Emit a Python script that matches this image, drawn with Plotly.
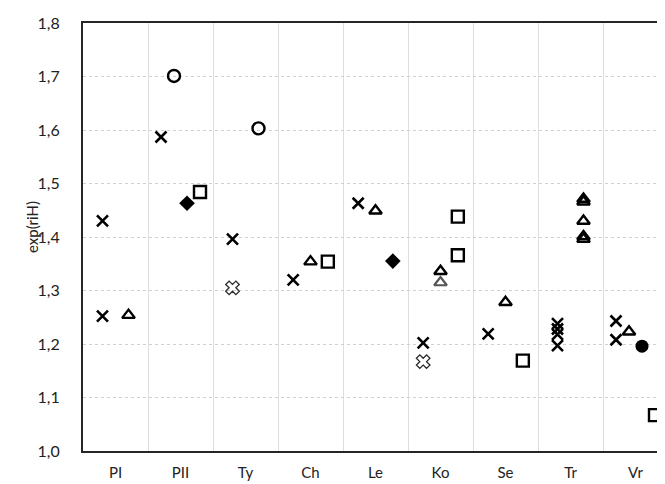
import plotly.graph_objects as go

categories = ["PI", "PII", "Ty", "Ch", "Le", "Ko", "Se", "Tr", "Vr"]
y_ticks = [1.0, 1.1, 1.2, 1.3, 1.4, 1.5, 1.6, 1.7, 1.8]
y_tick_labels = ["1,0", "1,1", "1,2", "1,3", "1,4", "1,5", "1,6", "1,7", "1,8"]
y_title = "exp(riH)"

# values per series (category -> list of values)
cross_vals = {"PI": [1.430, 1.252], "PII": [1.587], "Ty": [1.396], "Ch": [1.320],
              "Le": [1.463], "Ko": [1.202], "Se": [1.219],
              "Tr": [1.238, 1.228, 1.218, 1.197], "Vr": [1.243, 1.208]}
cross_grey_vals = {"Ty": [1.305], "Ko": [1.167]}
circle_vals = {"PII": [1.701], "Ty": [1.603]}
triangle_vals = {"PI": [1.254], "Ch": [1.354], "Le": [1.449], "Ko": [1.336],
                 "Se": [1.278], "Tr": [1.466, 1.471, 1.430, 1.396, 1.401], "Vr": [1.223]}
triangle_grey_vals = {"Ko": [1.315]}
diamond_vals = {"PII": [1.463], "Le": [1.355]}
circle_filled_vals = {"Vr": [1.196]}
square_vals = {"PII": [1.484], "Ch": [1.354], "Ko": [1.438, 1.366], "Se": [1.169], "Vr": [1.067]}

# slot order within a category
slot_groups = [
    ("cross", [cross_vals, cross_grey_vals]),
    ("round", [circle_vals, triangle_vals, triangle_grey_vals]),
    ("diamond", [diamond_vals, circle_filled_vals]),
    ("square", [square_vals]),
]


def slots_for(cat):
    present = []
    for name, dicts in slot_groups:
        if any(cat in d for d in dicts):
            present.append(name)
    return present


def offset(cat, slot):
    present = slots_for(cat)
    n = len(present)
    i = present.index(slot)
    return (i - (n - 1) / 2) * 0.8 / n


def xy(d, slot):
    xs, ys = [], []
    for cat, vals in d.items():
        ci = categories.index(cat)
        for v in vals:
            xs.append(ci + offset(cat, slot))
            ys.append(v)
    return xs, ys


fig = go.Figure()

def add(d, slot, symbol, size, color="black", lw=2.5):
    xs, ys = xy(d, slot)
    marker = dict(symbol=symbol, size=size, color=color,
                  line=dict(color=color, width=lw))
    fig.add_trace(go.Scatter(x=xs, y=ys, mode="markers", marker=marker,
                             showlegend=False, hoverinfo="y"))

add(cross_grey_vals, "cross", "x-open", 12, color="#2a2a2a", lw=1.3)
add(cross_vals, "cross", "x-thin", 11, lw=2.6)
add(circle_vals, "round", "circle-open", 12, lw=2.4)
add(triangle_grey_vals, "round", "triangle-up-open", 11, color="#555555", lw=2.2)
add(triangle_vals, "round", "triangle-up-open", 11, lw=2.4)
add(diamond_vals, "diamond", "diamond", 12, lw=0)
add(circle_filled_vals, "diamond", "circle", 13, lw=0)
add(square_vals, "square", "square-open", 12, lw=2.4)

font = "Lato, 'Open Sans', sans-serif"
fig.update_layout(
    width=657, height=476,
    margin=dict(l=75, r=0, t=15, b=33),
    paper_bgcolor="white", plot_bgcolor="white",
    font=dict(family=font, size=15, color="#222222"),
)
fig.update_xaxes(
    range=[-0.5, -0.5 + 582 / 65],
    tickmode="array", tickvals=list(range(len(categories))), ticktext=categories,
    showgrid=False, zeroline=False,
    showline=True, linecolor="#262626", linewidth=2, mirror=True,
    ticks="", ticklabelstandoff=7,
    tickfont=dict(size=15, family=font, color="#222222"),
    minor=dict(tickvals=[i + 0.5 for i in range(len(categories))], showgrid=True,
               gridcolor="#dedede", gridwidth=1.2, ticks=""),
)
fig.update_yaxes(
    range=[1.0, 1.8],
    tickmode="array", tickvals=y_ticks, ticktext=y_tick_labels,
    showgrid=True, gridcolor="#d0d0d0", gridwidth=1, griddash="dot",
    zeroline=False, showline=True, linecolor="#262626", linewidth=2,
    ticks="", ticklabelstandoff=18,
    tickfont=dict(size=16, family=font, color="#222222"),
)
fig.add_annotation(
    text=y_title, xref="paper", yref="paper", x=0, y=0.5,
    xanchor="center", yanchor="middle", xshift=-51, yshift=10,
    textangle=-90, showarrow=False,
    font=dict(size=15, family=font, color="#222222"),
)

fig.write_html("out.html")
